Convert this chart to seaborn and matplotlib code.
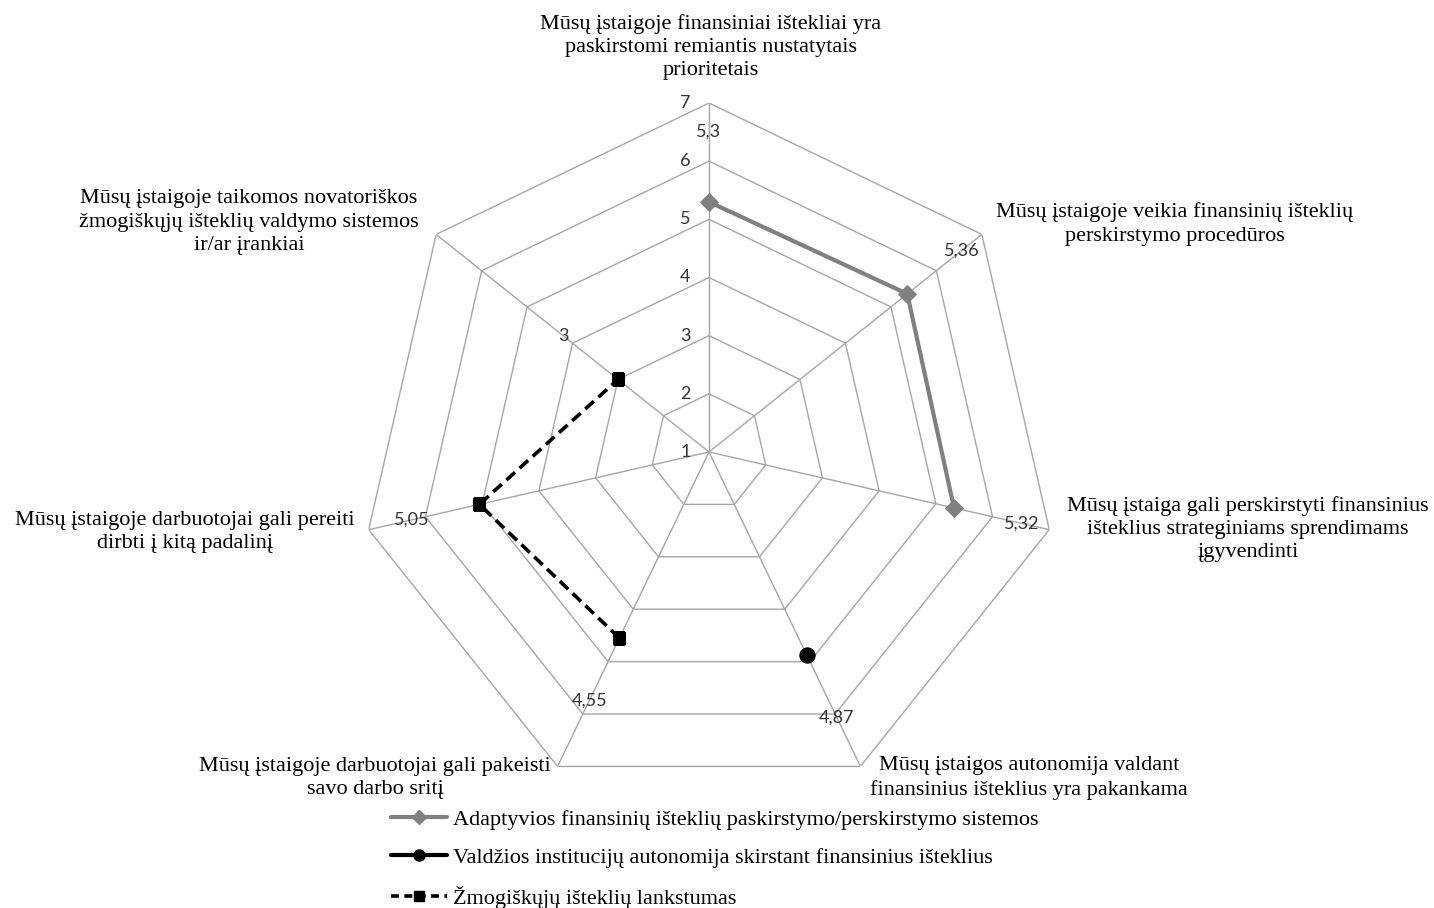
import numpy as np
import matplotlib
matplotlib.use("Agg")
import matplotlib.pyplot as plt
from matplotlib.lines import Line2D
import seaborn as sns

sns.set_style("white")
plt.rcParams['font.family'] = ['Liberation Serif', 'DejaVu Serif']

# ---------------- data ----------------
categories = [
    "Mūsų įstaigoje finansiniai ištekliai yra\npaskirstomi remiantis nustatytais\nprioritetais",
    "Mūsų įstaigoje veikia finansinių išteklių\nperskirstymo procedūros",
    "Mūsų įstaiga gali perskirstyti finansinius\ništeklius strateginiams sprendimams\nįgyvendinti",
    "Mūsų įstaigos autonomija valdant\nfinansinius išteklius yra pakankama",
    "Mūsų įstaigoje darbuotojai gali pakeisti\nsavo darbo sritį",
    "Mūsų įstaigoje darbuotojai gali pereiti\ndirbti į kitą padalinį",
    "Mūsų įstaigoje taikomos novatoriškos\nžmogiškųjų išteklių valdymo sistemos\nir/ar įrankiai",
]
series_names = [
    "Adaptyvios finansinių išteklių paskirstymo/perskirstymo sistemos",
    "Valdžios institucijų autonomija skirstant finansinius išteklius",
    "Žmogiškųjų išteklių lankstumas",
]
# category indices used by each series and its values
adapt_idx = [0, 1, 2]
adapt_vals = [5.30, 5.36, 5.32]
vald_idx = [3]
vald_vals = [4.87]
zmog_idx = [4, 5, 6]
zmog_vals = [4.55, 5.05, 3.00]
r_ticks = [1, 2, 3, 4, 5, 6, 7]

# ---------------- figure ----------------
W, H = 1434, 908
fig = plt.figure(figsize=(W / 100, H / 100), dpi=100)

def fx(x):
    return x / W

def fy(y):
    return 1 - y / H

cx, cy, R = 709, 452, 349
ax = fig.add_axes([fx(cx - R), fy(cy + R), 2 * R / W, 2 * R / H], projection='polar')
ax.set_theta_zero_location('N')
ax.set_theta_direction(-1)
ax.set_ylim(r_ticks[0], r_ticks[-1])
ax.grid(False)
ax.spines['polar'].set_visible(False)
ax.set_xticks([])
ax.set_yticks([])
ax.patch.set_alpha(0)

n = len(categories)
theta = np.arange(n) * 2 * np.pi / n
grid_color = '#A6A6A6'

# polygon rings
for r in r_ticks[1:]:
    ax.plot(np.append(theta, theta[0]), [r] * (n + 1), color=grid_color, lw=1.0, zorder=1)
# spokes
for t in theta:
    ax.plot([t, t], [r_ticks[0], r_ticks[-1]], color=grid_color, lw=1.0, zorder=1)

# tick labels on the first axis
for r in r_ticks:
    ax.annotate(str(r), xy=(0, r), xytext=(-17, 0), textcoords='offset points',
                ha='center', va='center', fontsize=13, color='#333333', family='Lato')

# series
sns.lineplot(x=theta[adapt_idx], y=adapt_vals, ax=ax, sort=False, color='#808080',
             lw=3.0, marker='D', markersize=9, markeredgecolor='#808080', zorder=3)
sns.lineplot(x=theta[vald_idx], y=vald_vals, ax=ax, sort=False, color='black',
             lw=3.0, marker='o', markersize=11, markeredgecolor='black', zorder=3)
sns.lineplot(x=theta[zmog_idx], y=zmog_vals, ax=ax, sort=False, color='black',
             lw=2.6, marker='s', markersize=8.5, markeredgecolor='black',
             dashes=(3.2, 1.7), zorder=3)

# data labels
def fmt(v):
    s = f"{v:.2f}".rstrip('0').rstrip('.')
    return s.replace('.', ',')

for idx, vals in [(adapt_idx, adapt_vals), (vald_idx, vald_vals), (zmog_idx, zmog_vals)]:
    for i, v in zip(idx, vals):
        ax.text(theta[i], v + 1.2, fmt(v), ha='center', va='center', fontsize=13,
                color='#333333', family='Lato', zorder=4)

# category labels (positions in figure pixels)
label_pos = [(711, 47), (1175, 224), (1248, 529), (1029, 778), (375, 778), (185, 532), (249, 222)]
for lab, (x, y) in zip(categories, label_pos):
    fig.text(fx(x), fy(y), lab, ha='center', va='center', multialignment='center',
             fontsize=16, linespacing=1.3, color='black')

# legend
handles = [
    Line2D([], [], color='#808080', lw=3.0, marker='D', markersize=7),
    Line2D([], [], color='black', lw=3.0, marker='o', markersize=8),
    Line2D([], [], color='black', lw=2.6, marker='s', markersize=7, dashes=(2.2, 1.5)),
]
leg = fig.legend(handles, series_names, loc='upper left', bbox_to_anchor=(fx(391), fy(809)),
                 frameon=False, fontsize=16, handlelength=2.5, handletextpad=0.3,
                 labelspacing=0.8, borderpad=0, borderaxespad=0)
for t in leg.get_texts():
    t.set_color('black')

fig.savefig('out.png', dpi=100)
